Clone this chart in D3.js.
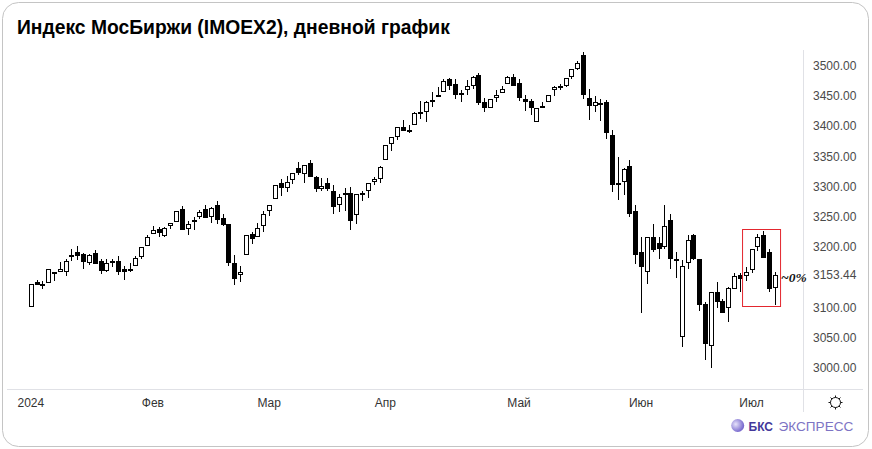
<!DOCTYPE html>
<html>
<head>
  <title>IMOEX2</title>
  <script src="https://d3js.org/d3.v7.min.js"></script>
  <style>
    html, body { margin: 0; background: #fff; }
    svg { display: block; }
    text { font-family: "Liberation Sans", Arial, sans-serif; }
  </style>
</head>
<body>
  <script>
    // daily candles (index points)
    var opens = [3099,3141,3137,3139,3157,3157,3157,3182,3190,3187,3173,3188,3175,3159,3175,3175,3162,3162,3168,3182,
      3200,3220,3228,3217,3233,3240,3261,3229,3241,3249,3261,3249,3269,3246,3237,3172,3152,3185,3220,3215,
      3233,3258,3278,3304,3297,3309,3329,3319,3337,3314,3294,3304,3292,3268,3288,3288,3251,3288,3291,3307,
      3312,3342,3369,3380,3398,3391,3400,3421,3423,3441,3448,3455,3476,3468,3450,3458,3466,3483,3438,3428,
      3445,3453,3468,3480,3470,3443,3440,3405,3431,3438,3458,3465,3465,3480,3494,3516,3446,3432,3437,3438,
      3384,3304,3307,3332,3258,3191,3158,3216,3206,3198,3244,3178,3049,3172,3218,3178,3104,3034,3125,3109,
      3097,3129,3152,3150,3160,3198,3218,3190,3130];
    var highs = [3137,3144,3142,3162,3158,3174,3179,3196,3200,3188,3187,3193,3178,3178,3178,3184,3167,3172,3184,3198,
      3219,3233,3232,3231,3238,3259,3267,3241,3248,3260,3268,3265,3275,3253,3237,3185,3167,3219,3223,3239,
      3258,3269,3302,3311,3317,3322,3339,3334,3343,3317,3313,3313,3302,3286,3296,3298,3286,3291,3304,3314,
      3332,3367,3380,3398,3409,3401,3422,3440,3441,3455,3464,3476,3478,3476,3458,3475,3481,3486,3445,3443,
      3458,3466,3481,3485,3476,3450,3443,3429,3438,3451,3465,3468,3478,3493,3506,3521,3460,3448,3443,3442,
      3392,3347,3329,3342,3269,3216,3215,3236,3215,3268,3254,3190,3177,3218,3221,3178,3107,3125,3141,3112,
      3132,3155,3155,3165,3196,3221,3225,3195,3158];
    var lows = [3099,3135,3129,3139,3143,3157,3150,3176,3177,3163,3169,3170,3154,3158,3166,3152,3144,3157,3168,3179,
      3200,3220,3216,3216,3228,3240,3227,3219,3227,3245,3246,3238,3236,3234,3168,3136,3141,3185,3204,3215,
      3224,3250,3278,3283,3289,3303,3318,3305,3314,3289,3292,3292,3254,3257,3259,3227,3236,3275,3280,3302,
      3305,3342,3358,3376,3391,3387,3400,3410,3406,3431,3448,3455,3459,3443,3438,3451,3460,3433,3423,3428,
      3438,3453,3468,3465,3440,3424,3418,3405,3429,3438,3449,3458,3463,3477,3491,3444,3409,3422,3408,3378,
      3290,3277,3284,3249,3170,3089,3138,3190,3178,3195,3162,3148,3033,3162,3177,3092,3011,2998,3097,3089,
      3075,3129,3124,3142,3155,3192,3180,3125,3103];
    var closes = [3137,3136,3138,3162,3154,3162,3175,3185,3184,3174,3185,3171,3159,3173,3173,3158,3158,3163,3180,3198,
      3216,3226,3222,3230,3238,3259,3227,3236,3244,3256,3247,3264,3244,3235,3173,3145,3157,3219,3212,3230,
      3253,3269,3302,3297,3307,3322,3322,3334,3314,3295,3299,3294,3265,3281,3285,3242,3286,3286,3304,3311,
      3331,3367,3380,3397,3391,3392,3420,3422,3438,3442,3451,3474,3466,3450,3453,3465,3480,3437,3428,3443,
      3450,3461,3480,3466,3446,3438,3429,3428,3432,3451,3463,3462,3478,3493,3504,3450,3432,3438,3433,3387,
      3302,3301,3327,3254,3186,3165,3215,3193,3195,3234,3178,3175,3168,3211,3178,3102,3038,3124,3108,3089,
      3130,3150,3145,3157,3195,3215,3180,3129,3152];

    var priceTicks = [3000,3050,3100,3153.44,3200,3250,3300,3350,3400,3450,3500];
    var monthLabels = ["2024","Фев","Мар","Апр","Май","Июн","Июл"];
    var monthCandles = [0,21,41,61,84,105,124];
    var chartTitle = "Индекс МосБиржи (IMOEX2), дневной график";

    var width = 872, height = 449;
    var svg = d3.select("body").append("svg")
        .attr("width", width)
        .attr("height", height);

    svg.append("rect")
        .attr("x", 2.5).attr("y", 2.5)
        .attr("width", 866).attr("height", 444)
        .attr("rx", 16)
        .attr("fill", "#fff")
        .attr("stroke", "#c4c4c4");

    svg.append("text")
        .attr("x", 17).attr("y", 34)
        .attr("font-size", 19.3).attr("font-weight", "bold")
        .attr("fill", "#000")
        .text(chartTitle);

    var x = d3.scaleLinear().domain([0, opens.length - 1]).range([31.3, 775.3]);
    var y = d3.scaleLinear().domain([3000, 3500]).range([367, 65]);

    var yAxis = d3.axisRight(y)
        .tickValues(priceTicks)
        .tickSize(0)
        .tickPadding(9.5)
        .tickFormat(d3.format(".2f"));
    var yG = svg.append("g").attr("transform", "translate(803.5,0.7)").call(yAxis);
    yG.select(".domain").remove();
    yG.selectAll("text").attr("font-size", 12).attr("fill", "#4a4a4a");

    var xAxis = d3.axisBottom(x)
        .tickValues(monthCandles)
        .tickSize(0)
        .tickPadding(9)
        .tickFormat(function(d, i) { return monthLabels[i]; });
    var xG = svg.append("g").attr("transform", "translate(-1,389.5)").call(xAxis);
    xG.select(".domain").remove();
    xG.selectAll("text").attr("font-size", 12).attr("fill", "#333");

    svg.append("line").attr("x1", 7).attr("x2", 863).attr("y1", 389.5).attr("y2", 389.5)
        .attr("stroke", "#e0e1e6");
    svg.append("line").attr("x1", 803.5).attr("x2", 803.5).attr("y1", 50).attr("y2", 412)
        .attr("stroke", "#e0e1e6");

    // candles
    var candles = svg.append("g").attr("shape-rendering", "crispEdges")
        .selectAll("g")
        .data(opens.map(function(o, i) { return {i: i, o: o, h: highs[i], l: lows[i], c: closes[i]}; }))
        .enter().append("g");

    candles.append("rect")
        .attr("x", function(d) { return Math.floor(x(d.i)); })
        .attr("width", 1)
        .attr("y", function(d) { return Math.round(y(d.h)); })
        .attr("height", function(d) { return Math.round(y(d.l)) - Math.round(y(d.h)); })
        .attr("fill", "#000");

    candles.append("rect")
        .attr("x", function(d) { return Math.floor(x(d.i)) - 2; })
        .attr("width", 5)
        .attr("y", function(d) { return Math.round(y(Math.max(d.o, d.c))); })
        .attr("height", function(d) { return Math.max(2, Math.round(y(Math.min(d.o, d.c))) - Math.round(y(Math.max(d.o, d.c)))); })
        .attr("fill", "#000");

    candles.filter(function(d) { return d.c > d.o; }).append("rect")
        .attr("x", function(d) { return Math.floor(x(d.i)) - 1; })
        .attr("width", 3)
        .attr("y", function(d) { return Math.round(y(d.c)) + 1; })
        .attr("height", function(d) { return Math.max(0, Math.round(y(d.o)) - Math.round(y(d.c)) - 2); })
        .attr("fill", "#fff");

    // red frame round the last candles
    svg.append("rect")
        .attr("x", x(124) - 9.5).attr("y", 229.5)
        .attr("width", 38).attr("height", 77)
        .attr("fill", "none")
        .attr("stroke", "#e3262e");

    svg.append("text")
        .attr("x", 781).attr("y", 282)
        .attr("font-size", 13.5).attr("font-weight", "bold").attr("font-style", "italic")
        .style("font-family", "'Liberation Serif', serif")
        .attr("fill", "#111")
        .text("~0%");

    // settings icon
    var gear = svg.append("g").attr("transform", "translate(835.5,402.5)")
        .attr("stroke", "#111").attr("fill", "none");
    gear.append("circle").attr("r", 5);
    d3.range(8).forEach(function(k) {
        var a = k * Math.PI / 4;
        gear.append("line")
            .attr("x1", 5 * Math.cos(a)).attr("y1", 5 * Math.sin(a))
            .attr("x2", 7 * Math.cos(a)).attr("y2", 7 * Math.sin(a));
    });

    // watermark
    var grad = svg.append("defs").append("radialGradient").attr("id", "orb")
        .attr("cx", "35%").attr("cy", "40%").attr("r", "70%");
    grad.append("stop").attr("offset", "0%").attr("stop-color", "#e6e2fa");
    grad.append("stop").attr("offset", "100%").attr("stop-color", "#6a5ac8");
    svg.append("circle").attr("cx", 737.7).attr("cy", 425.5).attr("r", 6.5).attr("fill", "url(#orb)");
    svg.append("text").attr("x", 748.5).attr("y", 431).attr("font-size", 12).attr("font-weight", "bold")
        .attr("fill", "#43389a").text("БКС");
    svg.append("text").attr("x", 778.5).attr("y", 431).attr("font-size", 13.6)
        .attr("fill", "#7d74c4").text("ЭКСПРЕСС");
  </script>
</body>
</html>
